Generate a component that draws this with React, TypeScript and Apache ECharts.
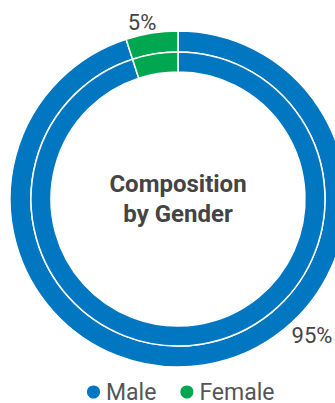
import React, { useEffect, useRef } from "react";
import * as echarts from "echarts";

const categories = ["Male", "Female"];
const shares = [95, 5];
const colors = ["#0176c1", "#00a650"];
const centerTitle = "Composition\nby Gender";

// label placement (px) for outer ring labels
const labelPos = [
  { x: 312, y: 335 },
  { x: 142, y: 22 },
];

export default function App() {
  const ref = useRef<HTMLDivElement>(null);
  useEffect(() => {
    if (!ref.current) return;
    const chart = echarts.init(ref.current, null, { renderer: "svg" });
    const data = categories.map((name, i) => ({
      name,
      value: shares[i],
      itemStyle: { color: colors[i] },
    }));
    const center = [178, 199];
    chart.setOption({
      animation: false,
      legend: {
        data: categories,
        left: 80,
        top: 375,
        icon: "circle",
        itemWidth: 15,
        itemHeight: 15,
        itemGap: 22,
        textStyle: { fontFamily: "Roboto", fontSize: 23, color: "#555", lineHeight: 24 },
      },
      graphic: [
        {
          type: "text",
          x: center[0],
          y: center[1],
          style: {
            text: centerTitle,
            fontFamily: "Roboto",
            fontWeight: "bold",
            fontSize: 24,
            lineHeight: 30,
            fill: "#444",
            textAlign: "center",
            textVerticalAlign: "middle",
          },
        },
      ],
      series: [
        {
          type: "pie",
          center,
          radius: [147, 168],
          startAngle: 90,
          clockwise: true,
          data,
          itemStyle: { borderColor: "#fff", borderWidth: 1.5 },
          label: {
            show: true,
            position: "outside",
            formatter: "{d}%",
            fontFamily: "Roboto",
            fontSize: 22,
            color: "#444",
          },
          labelLine: { show: false },
          labelLayout: (p: any) => ({
            x: labelPos[p.dataIndex].x,
            y: labelPos[p.dataIndex].y,
            align: "center",
            verticalAlign: "middle",
          }),
          emphasis: { disabled: true },
          silent: true,
        },
        {
          type: "pie",
          center,
          radius: [127, 147],
          startAngle: 90,
          clockwise: true,
          data,
          itemStyle: { borderColor: "#fff", borderWidth: 1.5 },
          label: { show: false },
          labelLine: { show: false },
          emphasis: { disabled: true },
          silent: true,
        },
      ],
    });
    return () => chart.dispose();
  }, []);
  return (
    <div
      ref={ref}
      style={{ position: "fixed", left: 0, top: 0, width: 335, height: 403, background: "#fff" }}
    />
  );
}
